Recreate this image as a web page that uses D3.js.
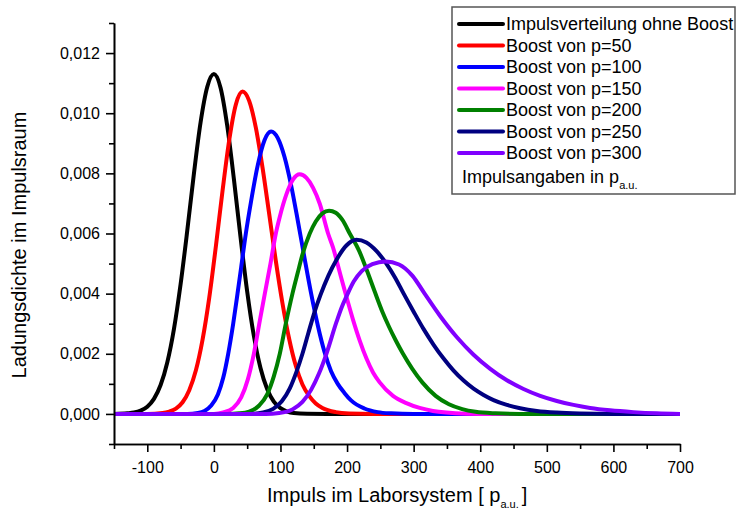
<!DOCTYPE html>
<html>
<head>
<meta charset="utf-8">
<script src="https://cdn.jsdelivr.net/npm/d3@7"></script>
<style>
  html, body { margin: 0; padding: 0; background: #fff; }
  svg { display: block; font-family: "Liberation Sans", Arial, sans-serif; }
</style>
</head>
<body>
<div id="chart"></div>
<script>
// ── Data (x in p_a.u., y in units of 1e-3) ───
const black = [[-150,0],[-130,0.02],[-120,0.045],[-110,0.11],[-100,0.24],[-90,0.5],[-80,0.96],[-70,1.71],[-60,2.82],[-50,4.31],[-40,6.09],[-30,7.99],[-20,9.69],[-10,10.87],[0,11.3],[10,10.85],[20,9.59],[30,7.82],[40,5.88],[50,4.07],[60,2.6],[70,1.53],[80,0.83],[90,0.41],[100,0.19],[110,0.08],[120,0.03],[140,0.005],[170,0],[700,0]];
const boost50 = [[-150,0],[-100,0],[-77,0.03],[-67,0.08],[-57,0.18],[-47,0.39],[-37,0.79],[-27,1.45],[-17,2.47],[-7,3.86],[3,5.58],[13,7.42],[23,9.1],[33,10.29],[43,10.72],[53,10.41],[63,9.52],[73,8.2],[83,6.66],[93,5.09],[103,3.68],[113,2.5],[123,1.6],[133,0.98],[143,0.6],[153,0.35],[163,0.2],[183,0.06],[203,0.015],[240,0],[700,0]];
const boost100 = [[-150,0],[-40,0],[-24,0.03],[-14,0.1],[-4,0.28],[6,0.65],[14,1.2],[21.5,2.0],[29,3.0],[35.5,4.0],[41,4.88],[48,6.0],[56,7.09],[66,8.28],[76,9.1],[86,9.39],[96,9.17],[106,8.55],[116,7.6],[126,6.43],[136,5.2],[146,4.01],[156,2.95],[166,2.07],[176,1.42],[186,1.0],[196,0.7],[206,0.45],[226,0.18],[246,0.06],[266,0.02],[300,0],[700,0]];
const boost150 = [[-150,0],[0,0],[14,0.05],[29,0.2],[41,0.55],[51,1.15],[60,2.0],[69,3.1],[76.5,4.0],[85,5.0],[93,6.0],[99,6.56],[109,7.31],[119,7.8],[129,7.97],[139,7.85],[149,7.52],[159,6.99],[171.5,6.0],[179,5.53],[189,4.71],[199,3.9],[209,3.13],[219,2.44],[229,1.85],[239,1.38],[249,1.05],[269,0.6],[289,0.36],[309,0.2],[329,0.1],[349,0.045],[379,0.01],[420,0],[700,0]];
const boost200 = [[-150,0],[20,0],[38,0.02],[53,0.08],[68,0.28],[80,0.65],[90,1.25],[99,2.0],[108,3.0],[118,4.0],[126,4.7],[133,5.3],[144,6.0],[153,6.4],[163,6.67],[173,6.76],[183,6.69],[193,6.45],[204,6.0],[218,5.43],[230,4.76],[241.5,4.07],[253,3.4],[263,2.9],[273,2.45],[284,2.0],[298,1.5],[313,1.05],[333,0.6],[353,0.32],[373,0.16],[393,0.07],[423,0.02],[460,0],[700,0]];
const boost250 = [[-150,0],[54,0],[74,0.05],[89,0.17],[102,0.42],[114,0.85],[124,1.4],[133,2.0],[142,2.7],[151,3.38],[160,3.95],[172,4.6],[184,5.12],[199,5.6],[214,5.79],[229,5.7],[244,5.42],[259,5.0],[272,4.54],[285,4.0],[300,3.4],[315,2.82],[330,2.3],[345,1.84],[360,1.44],[375,1.11],[390,0.84],[405,0.63],[420,0.46],[440,0.3],[460,0.19],[485,0.1],[515,0.045],[550,0.015],[600,0],[700,0]];
const boost300 = [[-150,0],[78,0],[98,0.03],[118,0.15],[133,0.4],[146,0.8],[158,1.35],[169,2.0],[184,3.05],[192,3.55],[200,3.95],[210,4.4],[222,4.75],[238,4.98],[258,5.07],[278,4.97],[298,4.6],[316.5,4.0],[340,3.25],[365,2.55],[390,1.97],[415,1.5],[440,1.12],[465,0.83],[490,0.6],[515,0.43],[540,0.3],[565,0.2],[595,0.12],[630,0.06],[665,0.02],[700,0]];

const seriesNames  = ["Impulsverteilung ohne Boost", "Boost von p=50", "Boost von p=100", "Boost von p=150",
                      "Boost von p=200", "Boost von p=250", "Boost von p=300"];
const seriesColors = ["#000000", "#ff0000", "#0000ff", "#ff00ff", "#008000", "#000080", "#8000ff"];
const seriesData   = [black, boost50, boost100, boost150, boost200, boost250, boost300];

const xMajorTicks = [-100, 0, 100, 200, 300, 400, 500, 600, 700];
const xMinorTicks = [-150, -50, 50, 150, 250, 350, 450, 550, 650];
const yMajorTicks = [0, 0.002, 0.004, 0.006, 0.008, 0.010, 0.012];
const yMinorTicks = [-0.001, 0.001, 0.003, 0.005, 0.007, 0.009, 0.011, 0.013];

// ── Layout ───────────────────────────────────
const W = 737, H = 510;
const margin = { left: 114, top: 23, right: 57, bottom: 66 };
const innerW = W - margin.left - margin.right;
const innerH = H - margin.top - margin.bottom;

const svg = d3.select("#chart").append("svg")
  .attr("width", W)
  .attr("height", H);

const x = d3.scaleLinear().domain([-150, 700]).range([0, innerW]);
const y = d3.scaleLinear().domain([-0.001, 0.013]).range([innerH, 0]);

const g = svg.append("g").attr("transform", `translate(${margin.left},${margin.top})`);

// ── Curves ───────────────────────────────────
const line = d3.line()
  .x(d => x(d[0]))
  .y(d => y(d[1] / 1000))
  .curve(d3.curveMonotoneX);

seriesData.forEach((data, i) => {
  g.append("path")
    .datum(data)
    .attr("d", line)
    .attr("fill", "none")
    .attr("stroke", seriesColors[i])
    .attr("stroke-width", 4)
    .attr("stroke-linejoin", "round");
});

// ── Axes ─────────────────────────────────────
const fmtY = d => d3.format(".3f")(d).replace(".", ",");
const fmtX = d => String(d);

function styleAxis(sel) {
  sel.select(".domain").attr("stroke", "#000").attr("stroke-width", 1.6);
  sel.selectAll(".tick line").attr("stroke", "#000").attr("stroke-width", 1.6);
  sel.selectAll(".tick text")
    .attr("fill", "#000")
    .attr("font-size", "16px")
    .attr("font-family", "'Liberation Sans', Arial, sans-serif");
}

g.append("g")
  .call(d3.axisLeft(y).tickValues(yMinorTicks).tickSize(5).tickSizeOuter(0).tickFormat(""))
  .call(styleAxis);
g.append("g")
  .call(d3.axisLeft(y).tickValues(yMajorTicks).tickSize(8).tickSizeOuter(0).tickPadding(6).tickFormat(fmtY))
  .call(styleAxis);

g.append("g")
  .attr("transform", `translate(0,${innerH})`)
  .call(d3.axisBottom(x).tickValues(xMinorTicks).tickSize(5).tickSizeOuter(0).tickFormat(""))
  .call(styleAxis);
g.append("g")
  .attr("transform", `translate(0,${innerH})`)
  .call(d3.axisBottom(x).tickValues(xMajorTicks).tickSize(8).tickSizeOuter(0).tickPadding(10).tickFormat(fmtX))
  .call(styleAxis);

// ── Axis titles ──────────────────────────────
const xTitle = svg.append("text")
  .attr("x", 267)
  .attr("y", 502)
  .attr("font-size", "20px")
  .attr("fill", "#000");
xTitle.append("tspan").text("Impuls im Laborsystem [ p");
xTitle.append("tspan").attr("font-size", "11px").attr("dy", 6).text("a.u. ");
xTitle.append("tspan").attr("dy", -6).text("]");

svg.append("text")
  .attr("transform", "translate(26,245) rotate(-90)")
  .attr("text-anchor", "middle")
  .attr("font-size", "20px")
  .attr("fill", "#000")
  .text("Ladungsdichte im Impulsraum");

// ── Legend ───────────────────────────────────
const legend = svg.append("g");
legend.append("rect")
  .attr("x", 452).attr("y", 7)
  .attr("width", 283).attr("height", 187)
  .attr("fill", "#fff")
  .attr("stroke", "#555")
  .attr("stroke-width", 1.5);

seriesNames.forEach((name, i) => {
  const cy = 24 + i * 21.5;
  legend.append("line")
    .attr("x1", 459).attr("x2", 503)
    .attr("y1", cy).attr("y2", cy)
    .attr("stroke", seriesColors[i])
    .attr("stroke-width", 4)
    .attr("stroke-linecap", "round");
  legend.append("text")
    .attr("x", 506).attr("y", cy + 6.3)
    .attr("font-size", "18px")
    .attr("fill", "#000")
    .text(name);
});

const note = legend.append("text")
  .attr("x", 462).attr("y", 182.5)
  .attr("font-size", "18px")
  .attr("fill", "#000");
note.append("tspan").text("Impulsangaben in p");
note.append("tspan").attr("font-size", "11px").attr("dy", 6).text("a.u.");
</script>
</body>
</html>
